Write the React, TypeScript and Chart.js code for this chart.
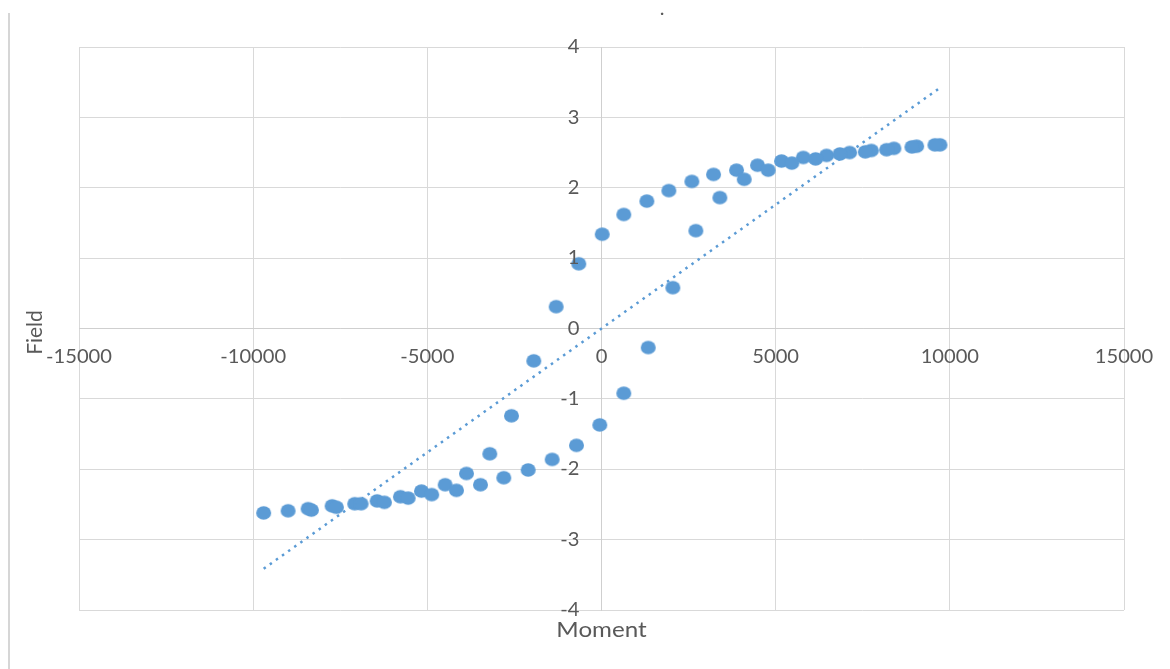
import React, { useEffect, useRef } from 'react';
import { Chart, registerables } from 'chart.js';

Chart.register(...registerables);

// ---- Data ----
const moment: number[] = [
  9716, 9047, 8395, 7746, 7122, 6462, 5793, 5169, 4480, 3877,
  3217, 2593, 1933, 1301, 640, 20, -652, -1301, -1944, -2585,
  -3208, -3877, -4489, -5169, -5773, -6442, -7085, -7734, -8423, -8998,
  -9698, -8328, -7611, -6901, -6232, -5551, -4874, -4164, -3475, -2806,
  -2105, -1416, -718, -49, 640, 1341, 2048, 2708, 3397, 4098,
  4787, 5465, 6146, 6844, 7573, 8185, 8912, 9572,
];
const field: number[] = [
  2.61, 2.59, 2.56, 2.53, 2.5, 2.46, 2.43, 2.38, 2.32, 2.25,
  2.19, 2.09, 1.96, 1.81, 1.62, 1.34, 0.92, 0.31, -0.46, -1.24,
  -1.78, -2.06, -2.22, -2.31, -2.39, -2.45, -2.49, -2.52, -2.56, -2.59,
  -2.62, -2.58, -2.54, -2.49, -2.47, -2.41, -2.36, -2.3, -2.22, -2.12,
  -2.01, -1.86, -1.66, -1.37, -0.92, -0.27, 0.58, 1.39, 1.86, 2.12,
  2.25, 2.35, 2.41, 2.48, 2.51, 2.54, 2.58, 2.61,
];
// Linear trendline (y = slope * x + intercept)
const trendSlope = 0.000352;
const trendIntercept = 0;
const xTickRange = { min: -15000, max: 15000, step: 5000 };
const yTickRange = { min: -4, max: 4, step: 1 };
const xTitle = 'Moment';
const yTitle = 'Field';
const chartTitle = '.';

const BLUE = '#5b9bd5';
const TEXT = '#595959';
const GRID = '#d9d9d9';

function makeEllipse(w: number, h: number, color: string) {
  const c = document.createElement('canvas');
  c.width = Math.ceil(w) + 2;
  c.height = Math.ceil(h) + 2;
  const ctx = c.getContext('2d')!;
  ctx.fillStyle = color;
  ctx.beginPath();
  ctx.ellipse(c.width / 2, c.height / 2, w / 2, h / 2, 0, 0, Math.PI * 2);
  ctx.fill();
  return c;
}

function drawText(
  ctx: CanvasRenderingContext2D,
  text: string,
  x: number,
  y: number,
  align: CanvasTextAlign,
  sx: number,
  rotate = 0
) {
  ctx.save();
  ctx.translate(x, y);
  if (rotate) ctx.rotate(rotate);
  ctx.scale(sx, 1);
  ctx.textAlign = align;
  ctx.textBaseline = 'middle';
  ctx.fillText(text, 0, 0);
  ctx.restore();
}

const excelPlugin = {
  id: 'excelDecor',
  beforeDraw(chart: any) {
    const ctx = chart.ctx as CanvasRenderingContext2D;
    ctx.save();
    ctx.fillStyle = '#d6d6d6';
    ctx.fillRect(8, 13, 2, chart.height - 13);
    ctx.restore();
  },
  afterDatasetsDraw(chart: any) {
    const ctx = chart.ctx as CanvasRenderingContext2D;
    const xs = chart.scales.x;
    const ys = chart.scales.y;
    const ca = chart.chartArea;
    const x0 = xs.getPixelForValue(0);
    const y0 = ys.getPixelForValue(0);
    ctx.save();
    ctx.fillStyle = TEXT;
    ctx.font = '19px Lato, "Open Sans", sans-serif';
    xs.ticks.forEach((t: any) => {
      const px = xs.getPixelForValue(t.value);
      drawText(ctx, String(t.value), px, y0 + 28, 'center', 1.06);
    });
    ys.ticks.forEach((t: any) => {
      const py = ys.getPixelForValue(t.value);
      drawText(ctx, String(t.value), x0 - 22, py, 'right', 1.06);
    });
    ctx.font = '21px Lato, "Open Sans", sans-serif';
    drawText(ctx, xTitle, (ca.left + ca.right) / 2, ca.bottom + 20, 'center', 1.15);
    drawText(ctx, yTitle, 35, (ca.top + ca.bottom) / 2 + 4, 'center', 1.0, -Math.PI / 2);
    ctx.font = '20px Lato, "Open Sans", sans-serif';
    ctx.textAlign = 'center';
    ctx.textBaseline = 'alphabetic';
    ctx.fillText(chartTitle, 662, 15);
    ctx.restore();
  },
};

export default function App() {
  const ref = useRef<HTMLCanvasElement | null>(null);

  useEffect(() => {
    document.body.style.margin = '0';
    const canvas = ref.current;
    if (!canvas) return;
    const xMin = Math.min(...moment);
    const xMax = Math.max(...moment);
    const points = moment.map((m, i) => ({ x: m, y: field[i] }));
    const trend = [
      { x: xMin, y: trendIntercept + trendSlope * xMin },
      { x: xMax, y: trendIntercept + trendSlope * xMax },
    ];
    const marker = makeEllipse(15, 13.5, BLUE);

    const chart = new Chart(canvas, {
      type: 'scatter',
      data: {
        datasets: [
          {
            label: 'Field',
            data: points,
            pointStyle: marker as any,
            pointRadius: 7,
            backgroundColor: BLUE,
            borderColor: BLUE,
            order: 1,
          },
          {
            type: 'line',
            label: 'Linear',
            data: trend,
            showLine: true,
            borderColor: BLUE,
            borderWidth: 2.5,
            borderDash: [2.5, 5],
            pointRadius: 0,
            fill: false,
            order: 0,
          } as any,
        ],
      },
      options: {
        responsive: false,
        animation: false,
        events: [],
        layout: { padding: { left: 79, top: 47, right: 46, bottom: 59 } },
        plugins: {
          legend: { display: false },
          tooltip: { enabled: false },
          title: { display: false },
        },
        scales: {
          x: {
            type: 'linear',
            position: { y: 0 } as any,
            min: xTickRange.min,
            max: xTickRange.max,
            ticks: { stepSize: xTickRange.step, display: false },
            grid: { color: GRID, lineWidth: 1, drawTicks: false },
            border: { display: true, color: '#cfcfcf', width: 1 },
          },
          y: {
            type: 'linear',
            position: { x: 0 } as any,
            min: yTickRange.min,
            max: yTickRange.max,
            ticks: { stepSize: yTickRange.step, display: false },
            grid: { color: GRID, lineWidth: 1, drawTicks: false },
            border: { display: true, color: '#cfcfcf', width: 1 },
          },
        },
      },
      plugins: [excelPlugin],
    });
    return () => chart.destroy();
  }, []);

  return (
    <div style={{ width: 1170, height: 669, position: 'relative', background: '#fff' }}>
      <canvas ref={ref} width={1170} height={669} style={{ display: 'block', width: 1170, height: 669 }} />
    </div>
  );
}
